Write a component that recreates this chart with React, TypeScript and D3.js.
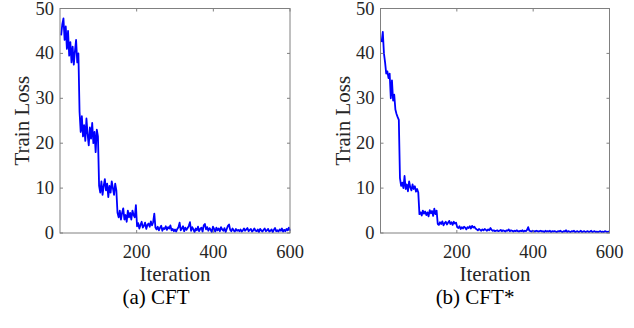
import React from "react";
import * as d3 from "d3";

// Iterations are sampled every ITER_STEP steps: 3, 6, ..., 600
const ITER_STEP = 3;

const xTicks = [200, 400, 600];
const yTicks = [0, 10, 20, 30, 40, 50];

const captions = ["(a) CFT", "(b) CFT*"];

// CFT train loss
const lossCFT = [
  44, 46.5, 47.8, 43, 46, 41, 45, 39.5, 42.5, 38, 41.5, 37.5, 40.5, 43, 38, 40,
  27,
  22.5, 26, 21.5, 24, 20.5, 25.5, 22, 19.5, 23.5, 21, 24.5, 20, 22.5, 18, 23, 21.5,
  10.5,
  9, 11.5, 8.5, 10.5, 12, 9.5, 11, 8, 10.5, 9, 11.5, 10, 8.5, 11, 9.5,
  4.5,
  3.5, 5, 3, 4.5, 5.5, 3, 4, 2.5, 5, 3.5, 4.5, 3, 5, 4, 3.5, 6.2,
  1.5,
  2.2, 1.0, 1.8, 2.5, 1.2, 1.6, 2.3, 0.9, 1.8, 2.1, 1.4, 2.6, 1.7, 2.4, 4.3, 1.2,
  0.8, 1.4, 0.6, 1.2, 1.6, 0.5, 1.1, 0.9, 1.5, 0.7, 1.3, 1.0, 1.7, 0.6, 0.9, 0.4, 0.8,
  0.3, 0.9, 1.3, 2.3, 0.6, 1.0, 1.5, 0.4, 1.2, 0.7,
  1.1, 1.6, 2.4, 0.5, 1.3, 0.8, 0.2, 1.0, 0.6, 1.4,
  0.4, 0.9, 1.2, 0.3, 1.7, 2.0, 0.8, 1.3, 0.5, 1.1,
  0.7, 0.2, 1.4, 0.9, 0.3, 1.2, 0.6, 1.0, 0.4, 1.3,
  0.8, 0.5, 1.1, 0.2, 0.9, 1.6, 1.9, 0.7, 0.4, 1.0,
  0.6, 0.3, 0.9, 0.5, 0.7, 0.4, 0.8, 0.3, 0.6, 1.0,
  0.5, 0.8, 1.1, 0.4, 0.7, 0.9, 0.3, 0.6, 1.0, 0.5,
  0.4, 0.8, 0.2, 0.9, 0.6, 0.3, 0.7, 1.0, 0.4, 0.6,
  0.9, 0.3, 0.5, 0.8, 0.2, 0.7, 1.1, 0.4, 0.6, 0.3,
  0.8, 0.5, 1.0, 0.3, 0.7, 0.4, 0.9, 0.6, 1.2, 0.5,
];

// CFT* train loss
const lossCFTStar = [
  42.5, 44.8, 40, 38, 35.5, 36, 34.5, 35.5, 30, 34, 29.5, 30.8, 27.5, 26.5, 25.8, 25.2,
  12.2,
  10.5, 11.2, 10, 12.7, 9.8, 10.8, 9.3, 11.5, 10.2, 9.5, 10.8, 9.8, 10.4, 9.2, 9.8, 9.0,
  4.2,
  4.6, 3.9, 5.0, 4.3, 4.8, 4.0, 4.6, 3.7, 5.1, 4.4, 4.9, 3.8, 5.4, 4.2, 5.0,
  2.0,
  1.8, 2.4, 2.0, 2.6, 1.7, 2.2, 2.5, 1.9, 2.3, 2.7, 2.0, 2.4, 1.8, 2.5, 2.1, 2.3,
  1.3,
  1.1, 1.5, 0.9, 1.3, 1.0, 1.4, 1.2, 0.8, 1.3, 1.1, 1.5, 1.0, 1.6, 1.2, 1.4, 1.0,
  0.8, 0.6, 0.9, 0.7, 0.5, 0.8, 0.6, 0.9, 0.7, 0.5, 0.8, 0.6, 1.1, 0.7, 0.5, 0.6, 0.4,
  0.5, 0.6, 0.4, 0.5, 0.7, 0.4, 0.6, 0.5, 0.3, 0.6,
  0.5, 0.8, 0.4, 0.6, 0.5, 0.3, 0.5, 0.4, 0.6, 0.4,
  0.3, 0.5, 0.4, 0.6, 0.3, 0.5, 0.4, 0.7, 1.3, 0.5,
  0.4, 0.3, 0.5, 0.4, 0.3, 0.5, 0.4, 0.3, 0.4, 0.5,
  0.3, 0.4, 0.2, 0.5, 0.3, 0.4, 0.3, 0.5, 0.2, 0.4,
  0.3, 0.4, 0.3, 0.2, 0.4, 0.3, 0.5, 0.3, 0.2, 0.4,
  0.3, 0.6, 0.2, 0.4, 0.3, 0.2, 0.4, 0.3, 0.5, 0.2,
  0.3, 0.4, 0.2, 0.3, 0.5, 0.2, 0.3, 0.4, 0.2, 0.3,
  0.4, 0.2, 0.3, 0.5, 0.2, 0.3, 0.4, 0.2, 0.3, 0.2,
  0.3, 0.4, 0.2, 0.3, 0.2, 0.4, 0.3, 0.2, 0.3, 0.2,
];

const FONT = "Liberation Serif, Times New Roman, DejaVu Serif, serif";
const TEXT = "#262626";
const AXIS = "#808080";

const textStyle = { fontFamily: FONT } as React.CSSProperties;

type PanelProps = {
  left: number;
  right: number;
  values: number[];
  caption: string;
  captionX: number;
};

function Panel({ left, right, values, caption, captionX }: PanelProps) {
  const top = 8.5;
  const bottom = 233;
  const x = d3.scaleLinear().domain([0, 600]).range([left, right]);
  const y = d3.scaleLinear().domain([0, 50]).range([bottom, top]);
  const line = d3
    .line<number>()
    .x((_, i) => x((i + 1) * ITER_STEP))
    .y((d) => y(d));
  const tl = 3;
  const cx = (left + right) / 2;
  return (
    <g>
      <path d={line(values) || ""} fill="none" stroke="#0000ff" strokeWidth={1.8} strokeLinejoin="round" />
      <rect x={left} y={top} width={right - left} height={bottom - top} fill="none" stroke={AXIS} strokeWidth={1} />
      {yTicks.map((t) => (
        <g key={"y" + t}>
          <line x1={left} x2={left + tl} y1={y(t)} y2={y(t)} stroke={AXIS} />
          <line x1={right} x2={right - tl} y1={y(t)} y2={y(t)} stroke={AXIS} />
          <text x={left - 6} y={y(t) + 6} textAnchor="end" fontSize={18.5} fill={TEXT} style={textStyle}>
            {t}
          </text>
        </g>
      ))}
      {xTicks.map((t) => (
        <g key={"x" + t}>
          <line x1={x(t)} x2={x(t)} y1={bottom} y2={bottom - tl} stroke={AXIS} />
          <line x1={x(t)} x2={x(t)} y1={top} y2={top + tl} stroke={AXIS} />
          <text x={x(t)} y={258} textAnchor="middle" fontSize={18.5} fill={TEXT} style={textStyle}>
            {t}
          </text>
        </g>
      ))}
      <text x={cx} y={281} textAnchor="middle" fontSize={21} fill={TEXT} style={textStyle}>
        Iteration
      </text>
      <text
        transform={`translate(${left - 31},${(top + bottom) / 2}) rotate(-90)`}
        textAnchor="middle"
        fontSize={21}
        fill={TEXT}
        style={textStyle}
      >
        Train Loss
      </text>
      <text x={captionX} y={304} textAnchor="middle" fontSize={21} fill="#000" style={textStyle}>
        {caption}
      </text>
    </g>
  );
}

export default function App() {
  return (
    <svg width={634} height={328} style={{ position: "absolute", left: 0, top: 0, background: "#fff" }}>
      <rect width={634} height={328} fill="#fff" />
      <Panel left={60} right={290} values={lossCFT} caption={captions[0]} captionX={156} />
      <Panel left={380.5} right={609.5} values={lossCFTStar} caption={captions[1]} captionX={475} />
    </svg>
  );
}
